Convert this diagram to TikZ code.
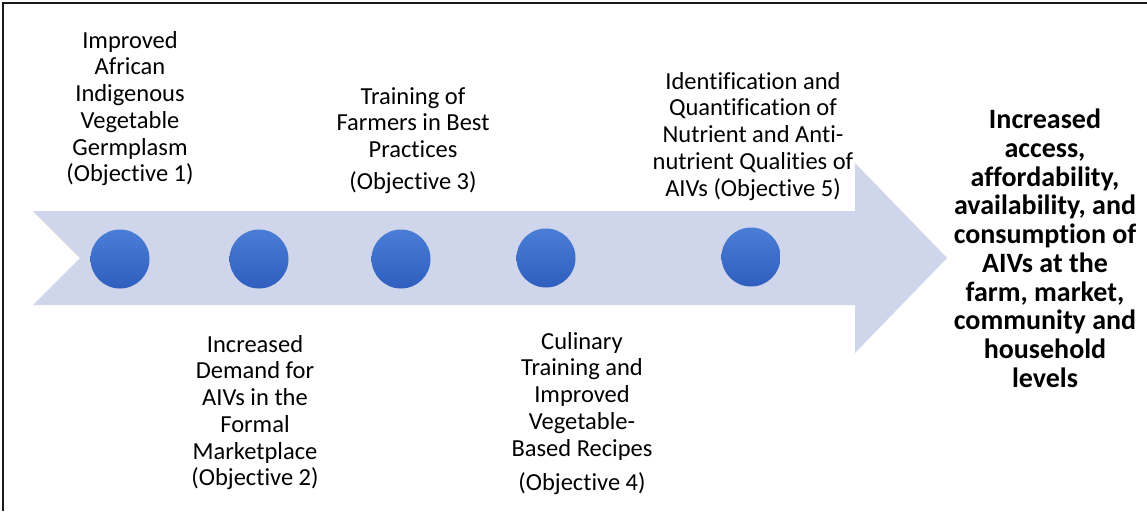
\documentclass[tikz,border=0pt]{standalone}
\usepackage{fontspec}
\setmainfont{Carlito}[Ligatures={NoCommon}]
\usetikzlibrary{shadings}
\definecolor{arrowfill}{HTML}{CFD5EA}
\definecolor{dotlight}{HTML}{4A7ED6}
\definecolor{dotdark}{HTML}{2F5EBE}
\definecolor{framecol}{HTML}{1A1A1A}
\tikzset{
  dot/.style={circle, minimum size=59pt, inner sep=0pt, top color=dotlight, bottom color=dotdark, draw=none},
  objtext/.style={align=center, font=\fontsize{24.5pt}{26.7pt}\selectfont, text=black, inner sep=0pt},
  goaltext/.style={align=center, font=\fontsize{28pt}{28.7pt}\selectfont\bfseries, text=black, inner sep=0pt}
}
\begin{document}
\begin{tikzpicture}[x=1pt,y=-1pt]
\useasboundingbox (0,0) rectangle (1147,511);
\fill[white] (0,0) rectangle (1147,511);
% frame (top and left edges only)
\draw[framecol, line width=2pt] (3,511) -- (3,3) -- (1147,3);
% big arrow
\fill[arrowfill] (33,211) -- (855,211) -- (855,163) -- (947,258) -- (855,353) -- (855,305) -- (33,305) -- (80,258) -- cycle;
% dots
\node[dot] (d1) at (120,259) {};
\node[dot] (d2) at (259,259) {};
\node[dot] (d3) at (401,259) {};
\node[dot] (d4) at (546,258) {};
\node[dot] (d5) at (751,257) {};
% objective texts
\node[objtext, anchor=north] (t1) at (130,31) {Improved\\African\\Indigenous\\Vegetable\\Germplasm\\(Objective 1)};
\node[objtext, anchor=north] (t2) at (255,335) {Increased\\Demand for\\AIVs in the\\Formal\\Marketplace\\(Objective 2)};
\node[objtext, anchor=north] (t3) at (413,87) {Training of\\Farmers in Best\\Practices\\[5pt](Objective 3)};
\node[objtext, anchor=north] (t4) at (582,332) {Culinary\\Training and\\Improved\\Vegetable-\\Based Recipes\\[8pt](Objective 4)};
\node[objtext, anchor=north] (t5) at (753,72) {Identification and\\Quantification of\\Nutrient and Anti-\\nutrient Qualities of\\AIVs (Objective 5)};
% goal text
\node[goaltext, anchor=north] (goal) at (1045,109) {Increased\\access,\\affordability,\\availability, and\\consumption of\\AIVs at the\\farm, market,\\community and\\household\\levels};
\end{tikzpicture}
\end{document}
